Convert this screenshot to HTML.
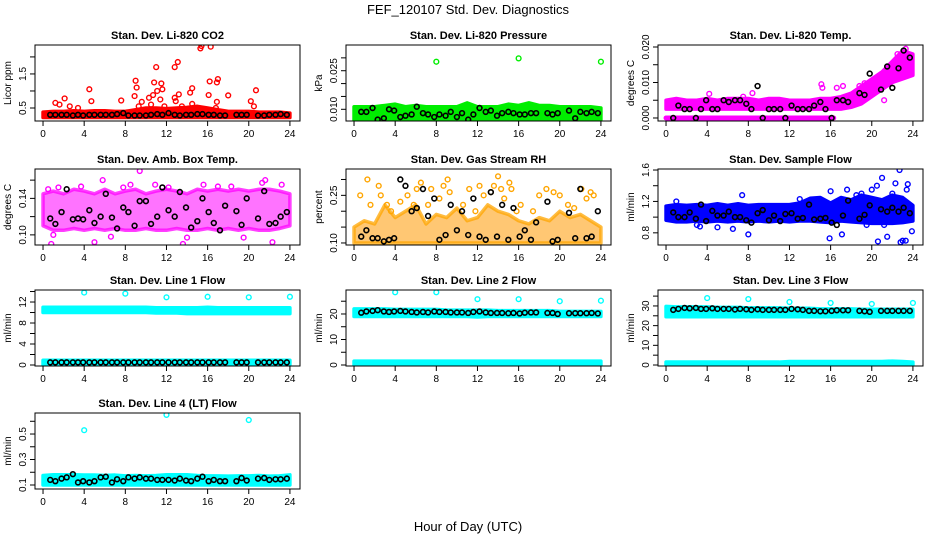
<!DOCTYPE html>
<html><head><meta charset="utf-8"><style>
body{margin:0;background:#fff;}
svg{display:block;font-family:"Liberation Sans",Arial,sans-serif;}
</style></head><body>
<svg id="chart" width="936" height="540" viewBox="0 0 936 540" xmlns="http://www.w3.org/2000/svg">
<rect width="936" height="540" fill="#fff"/>
<text x="468" y="14" text-anchor="middle" font-size="13">FEF_120107  Std. Dev. Diagnostics</text>
<text x="468" y="531" text-anchor="middle" font-size="13">Hour of Day (UTC)</text>
</svg>
<script>
// ---- shared data ----
const xTicks = [0,4,8,12,16,20,24];
const bandHours = [0,1,2,3,4,5,6,7,8,9,10,11,12,13,14,15,16,17,18,19,20,21,22,23,24];
const blackHours = [0.7,1.2,1.8,2.3,2.9,3.4,3.9,4.5,5.0,5.6,6.1,6.7,7.2,7.8,8.3,8.9,9.4,10.0,10.5,11.1,11.6,12.2,12.8,13.3,13.9,14.4,15.0,15.5,16.1,16.6,17.2,17.7,18.8,19.3,19.8,20.9,21.5,22.0,22.6,23.1,23.7];

// P1 CO2
const co2BandLo = [0.22,0.22,0.22,0.22,0.22,0.22,0.22,0.22,0.22,0.22,0.22,0.22,0.22,0.22,0.22,0.22,0.22,0.22,0.22,0.22,0.22,0.22,0.22,0.22,0.22];
const co2BandHi = [0.38,0.4,0.4,0.42,0.4,0.42,0.42,0.4,0.4,0.45,0.5,0.5,0.48,0.5,0.52,0.55,0.5,0.45,0.4,0.4,0.4,0.38,0.38,0.38,0.35];
const co2OutX = [1.2,1.6,2.1,2.6,3.4,4.5,4.7,7.6,8.9,9.0,9.1,9.6,10.3,10.7,10.8,11.0,11.1,11.4,11.5,11.6,12.8,12.8,13.1,13.2,14.3,14.5,14.5,15.3,15.4,16.1,16.2,16.3,16.9,17.0,16.9,16.8,18.0,20.2,20.5,20.7,12.9,13.5,9.3,10.5,11.8,14.7];
const co2OutY = [0.65,0.6,0.78,0.55,0.5,1.05,0.7,0.72,0.85,1.3,1.1,0.68,0.8,0.88,1.25,1.7,1.0,0.75,1.22,1.05,0.8,1.7,1.85,0.9,0.95,1.08,0.62,2.25,2.32,0.88,1.28,2.3,1.25,1.35,0.68,0.5,0.87,0.7,0.55,1.02,0.7,0.55,0.55,0.6,0.55,0.5];
const co2Black = [0.3,0.3,0.3,0.3,0.28,0.3,0.28,0.3,0.3,0.3,0.3,0.3,0.32,0.35,0.28,0.28,0.28,0.28,0.3,0.32,0.3,0.35,0.3,0.28,0.3,0.3,0.32,0.32,0.3,0.3,0.28,0.28,0.3,0.3,0.3,0.28,0.28,0.3,0.3,0.32,0.3];

// P2 Pressure
const presBandLo = [0.0058,0.0055,0.0055,0.0055,0.0055,0.0055,0.0055,0.0055,0.0055,0.0055,0.0055,0.0055,0.0055,0.0055,0.0055,0.0055,0.0055,0.0055,0.0055,0.0055,0.0055,0.0055,0.0055,0.0055,0.006];
const presBandHi = [0.011,0.011,0.011,0.0115,0.012,0.011,0.0115,0.011,0.011,0.011,0.011,0.0125,0.011,0.011,0.011,0.012,0.0115,0.0125,0.0115,0.0115,0.011,0.011,0.011,0.011,0.0105];
const presOutX = [8.0,16.0,24.0];
const presOutY = [0.0285,0.0298,0.0285];
const presBlack = [0.009,0.009,0.0105,0.006,0.0065,0.01,0.0095,0.007,0.0075,0.008,0.011,0.0085,0.008,0.007,0.008,0.0075,0.009,0.007,0.0085,0.006,0.008,0.0105,0.009,0.0095,0.0075,0.0085,0.009,0.0085,0.008,0.008,0.0085,0.0085,0.0085,0.008,0.0085,0.0095,0.0065,0.009,0.0085,0.009,0.0085];

// P3 Temp
const tempBandLo = [0.0025,0.0025,0.0025,0.0025,0.0025,0.0025,0.0025,0.0025,0.0025,0.0025,0.0025,0.0025,0.0025,0.0025,0.0025,0.0025,0.0025,0.0025,0.003,0.004,0.006,0.008,0.01,0.011,0.012];
const tempBandHi = [0.005,0.0055,0.005,0.005,0.0055,0.005,0.0055,0.0055,0.0055,0.005,0.0055,0.0055,0.005,0.005,0.005,0.0055,0.0055,0.006,0.007,0.009,0.011,0.013,0.016,0.019,0.018];
const tempZeroHours = [0,16.3];
const tempOutX = [4.2,7.5,8.4,15.1,15.2,16.6,17.2,18.8,19.3,21.2,22.5,23.3];
const tempOutY = [0.0068,0.006,0.007,0.0095,0.0085,0.0085,0.009,0.009,0.0098,0.005,0.018,0.0195];
const tempBlack = [0,0.0035,0.0025,0.0025,0,0.0025,0.005,0.0025,0.0025,0.005,0.0045,0.005,0.005,0.004,0.0025,0.009,0.0,0.0025,0.0025,0.0025,0.0,0.0035,0.0025,0.0025,0.0025,0.0035,0.0045,0.0025,0.0,0.005,0.005,0.0045,0.007,0.0065,0.0125,0.008,0.0145,0.0085,0.014,0.019,0.017];

// P4 Amb box temp
const ambBandLo = [0.11,0.105,0.105,0.107,0.105,0.107,0.105,0.107,0.105,0.105,0.107,0.105,0.105,0.107,0.105,0.105,0.107,0.105,0.107,0.105,0.107,0.105,0.105,0.107,0.11];
const ambBandHi = [0.145,0.148,0.145,0.15,0.148,0.145,0.15,0.145,0.148,0.15,0.145,0.148,0.15,0.148,0.145,0.15,0.148,0.15,0.148,0.15,0.148,0.15,0.15,0.148,0.145];
const ambOutX = [0.8,5.0,9.4,13.6,22.3,5.8,15.6,21.6,0.5,1.5,3.7,7.8,10.9,18.3,23.2,14.0,19.5,6.6,1.0,21.3,17.0,12.2,8.5];
const ambOutY = [0.09,0.092,0.17,0.09,0.092,0.16,0.155,0.16,0.15,0.152,0.153,0.152,0.155,0.153,0.155,0.097,0.097,0.098,0.1,0.157,0.153,0.152,0.155];
const ambBlack = [0.118,0.112,0.125,0.15,0.117,0.118,0.117,0.127,0.113,0.12,0.145,0.119,0.107,0.13,0.125,0.11,0.137,0.137,0.112,0.12,0.152,0.127,0.12,0.147,0.13,0.108,0.115,0.14,0.125,0.113,0.105,0.132,0.126,0.111,0.14,0.118,0.148,0.112,0.113,0.12,0.125];

// P5 RH
const rhBandLo = [0.1,0.1,0.1,0.1,0.1,0.1,0.1,0.1,0.1,0.1,0.1,0.1,0.1,0.1,0.1,0.1,0.1,0.1,0.1,0.1,0.1,0.1,0.1,0.1,0.1];
const rhBandHi = [0.15,0.17,0.16,0.22,0.18,0.2,0.22,0.16,0.19,0.18,0.21,0.17,0.18,0.22,0.2,0.19,0.17,0.16,0.18,0.17,0.2,0.18,0.19,0.17,0.15];
const rhOutX = [0.6,1.3,1.6,2.4,2.6,3.2,3.6,4.5,5.2,5.8,6.1,6.5,7.2,7.5,8.3,8.7,9.1,9.3,10.6,11.2,11.8,12.2,12.6,13.3,13.6,14.0,14.3,14.6,15.0,15.1,15.3,15.8,16.2,17.4,18.0,18.7,19.4,20.0,20.8,21.4,22.1,22.6,23.0,23.3];
const rhOutY = [0.25,0.3,0.22,0.28,0.25,0.22,0.2,0.23,0.25,0.22,0.27,0.29,0.22,0.27,0.24,0.28,0.3,0.26,0.22,0.27,0.2,0.28,0.25,0.26,0.28,0.31,0.27,0.24,0.35,0.29,0.27,0.2,0.22,0.2,0.25,0.27,0.26,0.25,0.22,0.21,0.27,0.24,0.26,0.25];
const rhBlack = [0.12,0.14,0.115,0.115,0.105,0.11,0.115,0.3,0.28,0.2,0.21,0.27,0.185,0.24,0.11,0.125,0.22,0.14,0.2,0.125,0.24,0.12,0.11,0.26,0.12,0.22,0.11,0.21,0.12,0.14,0.11,0.165,0.23,0.105,0.11,0.195,0.115,0.27,0.115,0.12,0.2];

// P6 Sample flow
const sfBandLo = [0.96,0.94,0.94,0.95,0.94,0.95,0.94,0.95,0.94,0.95,0.94,0.95,0.94,0.95,0.95,0.94,0.93,0.95,0.94,0.93,0.92,0.92,0.92,0.93,0.95];
const sfBandHi = [1.14,1.16,1.15,1.16,1.15,1.17,1.15,1.17,1.15,1.16,1.16,1.16,1.16,1.18,1.24,1.25,1.18,1.25,1.22,1.28,1.25,1.22,1.28,1.25,1.15];
const sfOutX = [1.0,3.0,3.3,5.0,6.5,7.4,8.0,15.9,16.0,17.1,17.6,19.5,20.0,20.6,21.0,21.2,21.5,22.7,22.3,23.0,23.3,23.5,23.4,23.9,22.8,20.5,19.0,22.0,13.0,18.5];
const sfOutY = [1.2,0.9,0.88,0.87,0.85,1.28,0.78,0.73,1.33,0.78,1.35,0.9,1.35,0.69,1.5,0.9,0.75,1.6,1.43,0.7,0.7,1.42,1.35,0.82,0.68,1.4,1.3,1.3,1.23,1.28];
const sfBlack = [1.06,1.0,1.0,1.06,0.98,1.16,0.95,1.08,1.02,1.02,1.07,1.0,1.0,0.96,0.93,1.05,1.09,0.96,1.02,0.95,1.04,1.05,0.98,0.99,1.16,0.97,0.98,0.99,0.93,0.9,1.02,1.21,0.98,1.03,1.15,1.1,1.07,1.12,1.07,1.12,1.05];

// P7 Line1
const l1BandLo = [10.0,10.0,10.0,10.0,10.0,10.0,10.0,10.0,10.0,10.0,10.0,9.9,9.9,9.9,9.8,9.8,9.8,9.8,9.8,9.8,9.8,9.8,9.8,9.8,9.8];
const l1BandHi = [11.0,11.0,11.0,11.0,11.0,11.0,11.0,11.0,11.0,11.0,11.0,10.9,10.9,10.9,10.9,10.9,11.0,10.9,10.9,10.9,10.9,10.9,10.9,10.9,10.9];
const l1ZeroLo = [0.1,0.1,0.1,0.1,0.1,0.1,0.1,0.1,0.1,0.1,0.1,0.1,0.1,0.1,0.1,0.1,0.1,0.1,0.1,0.1,0.1,0.1,0.1,0.1,0.1];
const l1ZeroHi = [0.9,0.9,0.9,0.9,0.9,0.9,0.9,0.9,0.9,0.9,0.9,0.9,0.9,0.9,0.9,0.9,0.9,0.9,0.9,0.9,0.9,0.9,0.9,0.9,0.9];
const l1OutX = [4,8,12,16,20,24];
const l1OutY = [13.8,13.6,12.9,13.0,12.9,13.0];
const l1Black = [0.5,0.5,0.5,0.5,0.5,0.5,0.5,0.5,0.5,0.5,0.5,0.5,0.5,0.5,0.5,0.5,0.5,0.5,0.5,0.5,0.5,0.5,0.5,0.5,0.5,0.5,0.5,0.5,0.5,0.5,0.5,0.5,0.5,0.5,0.5,0.5,0.5,0.5,0.5,0.5,0.5];

// P8 Line2
const l2BandLo = [19.0,19.0,19.0,19.0,19.0,19.0,19.0,19.0,19.0,19.0,19.0,19.0,18.8,19.0,19.0,19.0,19.0,19.0,19.0,19.0,19.0,19.0,19.0,19.0,19.0];
const l2BandHi = [22.0,22.0,22.0,22.0,21.8,21.8,21.8,21.8,21.8,21.5,21.5,21.5,21.5,21.5,21.3,21.3,21.3,21.3,21.3,21.3,21.0,21.0,21.0,21.0,21.0];
const l2ZeroLo = [0,0,0,0,0,0,0,0,0,0,0,0,0,0,0,0,0,0,0,0,0,0,0,0,0];
const l2ZeroHi = [1.5,1.5,1.5,1.5,1.5,1.5,1.5,1.5,1.5,1.5,1.5,1.5,1.5,1.5,1.5,1.5,1.5,1.5,1.5,1.5,1.5,1.5,1.5,1.5,1.5];
const l2OutX = [4,8,12,16,20,24];
const l2OutY = [28.5,28.5,25.8,25.8,25.0,25.2];
const l2Black = [20.5,21.0,21.2,21.5,21.0,20.8,21.0,21.2,21.0,20.8,20.6,20.8,20.6,21.0,20.8,20.8,20.6,20.6,20.6,20.4,20.8,21.0,20.6,20.4,20.4,20.4,20.3,20.4,20.2,20.5,20.6,20.6,20.4,20.4,20.0,20.3,20.3,20.3,20.3,20.4,20.2];

// P9 Line3
const l3BandLo = [24.5,24.5,24.5,24.5,24.5,24.5,24.5,24.5,24.5,24.5,24.5,24.5,24.5,24.5,24.5,24.5,24.5,24.5,24.5,24.5,24.5,24.5,24.5,24.5,24.5];
const l3BandHi = [29.8,29.5,29.5,29.5,29.5,29.3,29.3,29.3,29.0,29.0,29.0,29.0,28.8,28.8,28.8,28.5,28.5,28.5,28.5,28.3,28.3,28.3,28.3,28.3,28.3];
const l3ZeroLo = [0,0,0,0,0,0,0,0,0,0,0,0,0,0,0,0,0,0,0,0,0,0,0,0,0];
const l3ZeroHi = [1.5,1.5,1.5,1.5,1.5,1.5,1.5,1.5,1.5,1.5,1.5,1.5,1.8,1.8,1.8,1.8,1.8,1.8,1.8,1.8,1.8,1.8,2.0,1.8,1.5];
const l3OutX = [4,8,12,16,20,24];
const l3OutY = [34.0,33.5,32.0,31.5,31.0,31.5];
const l3Black = [28.0,28.5,29.0,28.8,29.0,28.5,28.5,28.8,28.5,28.5,28.5,28.2,28.5,28.3,28.0,28.3,28.0,28.0,28.0,28.0,28.0,28.5,28.3,28.0,27.5,27.5,27.3,27.3,27.5,27.8,27.8,27.8,27.5,27.3,27.0,27.5,27.5,27.5,27.5,27.5,27.5];

// P10 Line4
const l4BandLo = [0.1,0.1,0.1,0.1,0.1,0.1,0.1,0.1,0.1,0.1,0.1,0.1,0.1,0.1,0.1,0.1,0.1,0.1,0.1,0.1,0.1,0.1,0.1,0.1,0.1];
const l4BandHi = [0.175,0.18,0.18,0.18,0.178,0.178,0.175,0.178,0.172,0.175,0.172,0.175,0.18,0.18,0.18,0.175,0.172,0.172,0.17,0.172,0.172,0.175,0.17,0.172,0.18];
const l4OutX = [4,12,20];
const l4OutY = [0.53,0.65,0.61];
const l4Black = [0.14,0.13,0.15,0.16,0.185,0.12,0.13,0.12,0.13,0.16,0.165,0.12,0.145,0.13,0.16,0.15,0.16,0.15,0.15,0.14,0.14,0.14,0.135,0.15,0.135,0.13,0.15,0.165,0.13,0.14,0.13,0.13,0.13,0.155,0.135,0.15,0.155,0.14,0.145,0.145,0.15];

// ---- layout (not data) ----
const colX = [35,346,658], rowY = [45,169,290,413], boxW = 265, boxH = 76;
const panels = [
 {name:'co2',title:'Stan. Dev. Li-820 CO2',ylab:'Licor ppm',c:0,r:0,ylim:[0.118,2.35],ticks:[0.5,1,1.5,2],labels:['0.5','','1.5',''],color:'#ff0000',lo:co2BandLo,hi:co2BandHi,ox:co2OutX,oy:co2OutY,blk:co2Black},
 {name:'pressure',title:'Stan. Dev. Li-820 Pressure',ylab:'kPa',c:1,r:0,ylim:[0.00545,0.035],ticks:[0.010,0.015,0.020,0.025,0.030],labels:['0.010','','','0.025',''],color:'#00ee00',lo:presBandLo,hi:presBandHi,ox:presOutX,oy:presOutY,blk:presBlack},
 {name:'temp',title:'Stan. Dev. Li-820 Temp.',ylab:'degrees C',c:2,r:0,ylim:[-0.00085,0.02056],ticks:[0,0.005,0.010,0.015,0.020],labels:['0.000','','0.010','','0.020'],color:'#ff00ff',lo:tempBandLo,hi:tempBandHi,ox:tempOutX,oy:tempOutY,blk:tempBlack,zeroRow:tempZeroHours},
 {name:'amb-box-temp',title:'Stan. Dev. Amb. Box Temp.',ylab:'degrees C',c:0,r:1,ylim:[0.0889,0.1722],ticks:[0.10,0.12,0.14,0.16],labels:['0.10','','0.14',''],color:'#ff00ff',lo:ambBandLo,hi:ambBandHi,ox:ambOutX,oy:ambOutY,blk:ambBlack,op:0.55},
 {name:'gas-stream-rh',title:'Stan. Dev. Gas Stream RH',ylab:'percent',c:1,r:1,ylim:[0.0936,0.333],ticks:[0.10,0.15,0.20,0.25,0.30],labels:['0.10','','','0.25',''],color:'#ffa500',fill:'#ff9900',lo:rhBandLo,hi:rhBandHi,ox:rhOutX,oy:rhOutY,blk:rhBlack,op:0.55},
 {name:'sample-flow',title:'Stan. Dev. Sample Flow',ylab:'ml/min',c:2,r:1,ylim:[0.645,1.613],ticks:[0.8,1.0,1.2,1.4,1.6],labels:['0.8','','1.2','','1.6'],color:'#0000ff',lo:sfBandLo,hi:sfBandHi,ox:sfOutX,oy:sfOutY,blk:sfBlack},
 {name:'line1-flow',title:'Stan. Dev. Line 1 Flow',ylab:'ml/min',c:0,r:2,ylim:[-0.19,14.29],ticks:[0,2,4,6,8,10,12,14],labels:['0','','4','','8','','12',''],color:'#00ffff',lo:l1BandLo,hi:l1BandHi,zlo:l1ZeroLo,zhi:l1ZeroHi,ox:l1OutX,oy:l1OutY,blk:l1Black},
 {name:'line2-flow',title:'Stan. Dev. Line 2 Flow',ylab:'ml/min',c:1,r:2,ylim:[-0.39,29.4],ticks:[0,5,10,15,20,25],labels:['0','','10','','20',''],color:'#00ffff',lo:l2BandLo,hi:l2BandHi,zlo:l2ZeroLo,zhi:l2ZeroHi,ox:l2OutX,oy:l2OutY,blk:l2Black},
 {name:'line3-flow',title:'Stan. Dev. Line 3 Flow',ylab:'ml/min',c:2,r:2,ylim:[-0.5,38.1],ticks:[0,5,10,15,20,25,30,35],labels:['0','','10','','20','','30',''],color:'#00ffff',lo:l3BandLo,hi:l3BandHi,zlo:l3ZeroLo,zhi:l3ZeroHi,ox:l3OutX,oy:l3OutY,blk:l3Black},
 {name:'line4-flow',title:'Stan. Dev. Line 4 (LT) Flow',ylab:'ml/min',c:0,r:3,ylim:[0.0686,0.665],ticks:[0.1,0.2,0.3,0.4,0.5,0.6],labels:['0.1','','0.3','','0.5',''],color:'#00ffff',lo:l4BandLo,hi:l4BandHi,ox:l4OutX,oy:l4OutY,blk:l4Black}
];
const NS='http://www.w3.org/2000/svg';
const svg=document.getElementById('chart');
function mk(tag,attrs,parent){const e=document.createElementNS(NS,tag);for(const k in attrs)e.setAttribute(k,attrs[k]);parent.appendChild(e);return e;}
panels.forEach(p=>{
  const L=colX[p.c],T=rowY[p.r],R=L+boxW,B=T+boxH;
  const xs=h=>L+(h+0.78)/25.76*boxW;
  const ys=v=>B-(v-p.ylim[0])/(p.ylim[1]-p.ylim[0])*boxH;
  const g=mk('g',{},svg);
  
  
  const clipId='clip-'+p.name;
  const cp=mk('clipPath',{id:clipId},g);mk('rect',{x:L,y:T,width:boxW,height:boxH},cp);
  const plot=mk('g',{'clip-path':'url(#'+clipId+')'},g);
  const bandPoly=(lo,hi,op)=>{
    let pts=[];
    bandHours.forEach((h,i)=>pts.push(xs(h)+','+ys(hi[i])));
    for(let i=bandHours.length-1;i>=0;i--)pts.push(xs(bandHours[i])+','+ys(lo[i]));
    const poly=mk('polygon',{points:pts.join(' '),fill:p.fill||p.color,stroke:p.color,'stroke-width':3.5,'stroke-linejoin':'round','fill-opacity':op||1,'stroke-opacity':op?op+0.2:1},plot);
    
    
  };
  bandPoly(p.lo,p.hi,p.op);
  if(p.zlo) bandPoly(p.zlo,p.zhi,0);
  if(p.zeroRow){
    const zr=mk('line',{x1:xs(p.zeroRow[0]),x2:xs(p.zeroRow[1]),y1:ys(0),y2:ys(0),stroke:p.color,'stroke-width':5,'stroke-linecap':'round'},plot);
    
    
  }
  p.ox.forEach((h,i)=>{
    const c=mk('circle',{cx:xs(h),cy:ys(p.oy[i]),r:2.4,fill:'none',stroke:p.color,'stroke-width':1.4},plot);
    
    
  });
  p.blk.forEach((v,i)=>{
    const c=mk('circle',{cx:xs(blackHours[i]),cy:ys(v),r:2.4,fill:'none',stroke:'#000','stroke-width':1.6},plot);
    
    
  });
  const box=mk('rect',{x:L,y:T,width:boxW,height:boxH,fill:'none',stroke:'#000','stroke-width':1},g);
  
  
  const t=mk('text',{x:(L+R)/2,y:T-6,'text-anchor':'middle','font-size':11,'font-weight':'bold'},g);
  t.textContent=p.title;
  
  
  xTicks.forEach(h=>{
    mk('line',{x1:xs(h),x2:xs(h),y1:B,y2:B+5,stroke:'#000'},g);
    const tx=mk('text',{x:xs(h),y:B+16,'text-anchor':'middle','font-size':10},g);
    tx.textContent=h;
    
    
  });
  p.ticks.forEach((v,i)=>{
    const y=ys(v); if(y<T-1||y>B+1)return;
    mk('line',{x1:L-5,x2:L,y1:y,y2:y,stroke:'#000'},g);
    if(p.labels[i]){
      const ty=mk('text',{x:L-9,y:y,'text-anchor':'middle','font-size':10,transform:'rotate(-90 '+(L-9)+' '+y+')'},g);
      ty.textContent=p.labels[i];
      
      
    }
  });
  const yl=mk('text',{x:L-24,y:(T+B)/2,'text-anchor':'middle','font-size':10,transform:'rotate(-90 '+(L-24)+' '+(T+B)/2+')'},g);
  yl.textContent=p.ylab;
  
  
});
</script>
</body></html>
